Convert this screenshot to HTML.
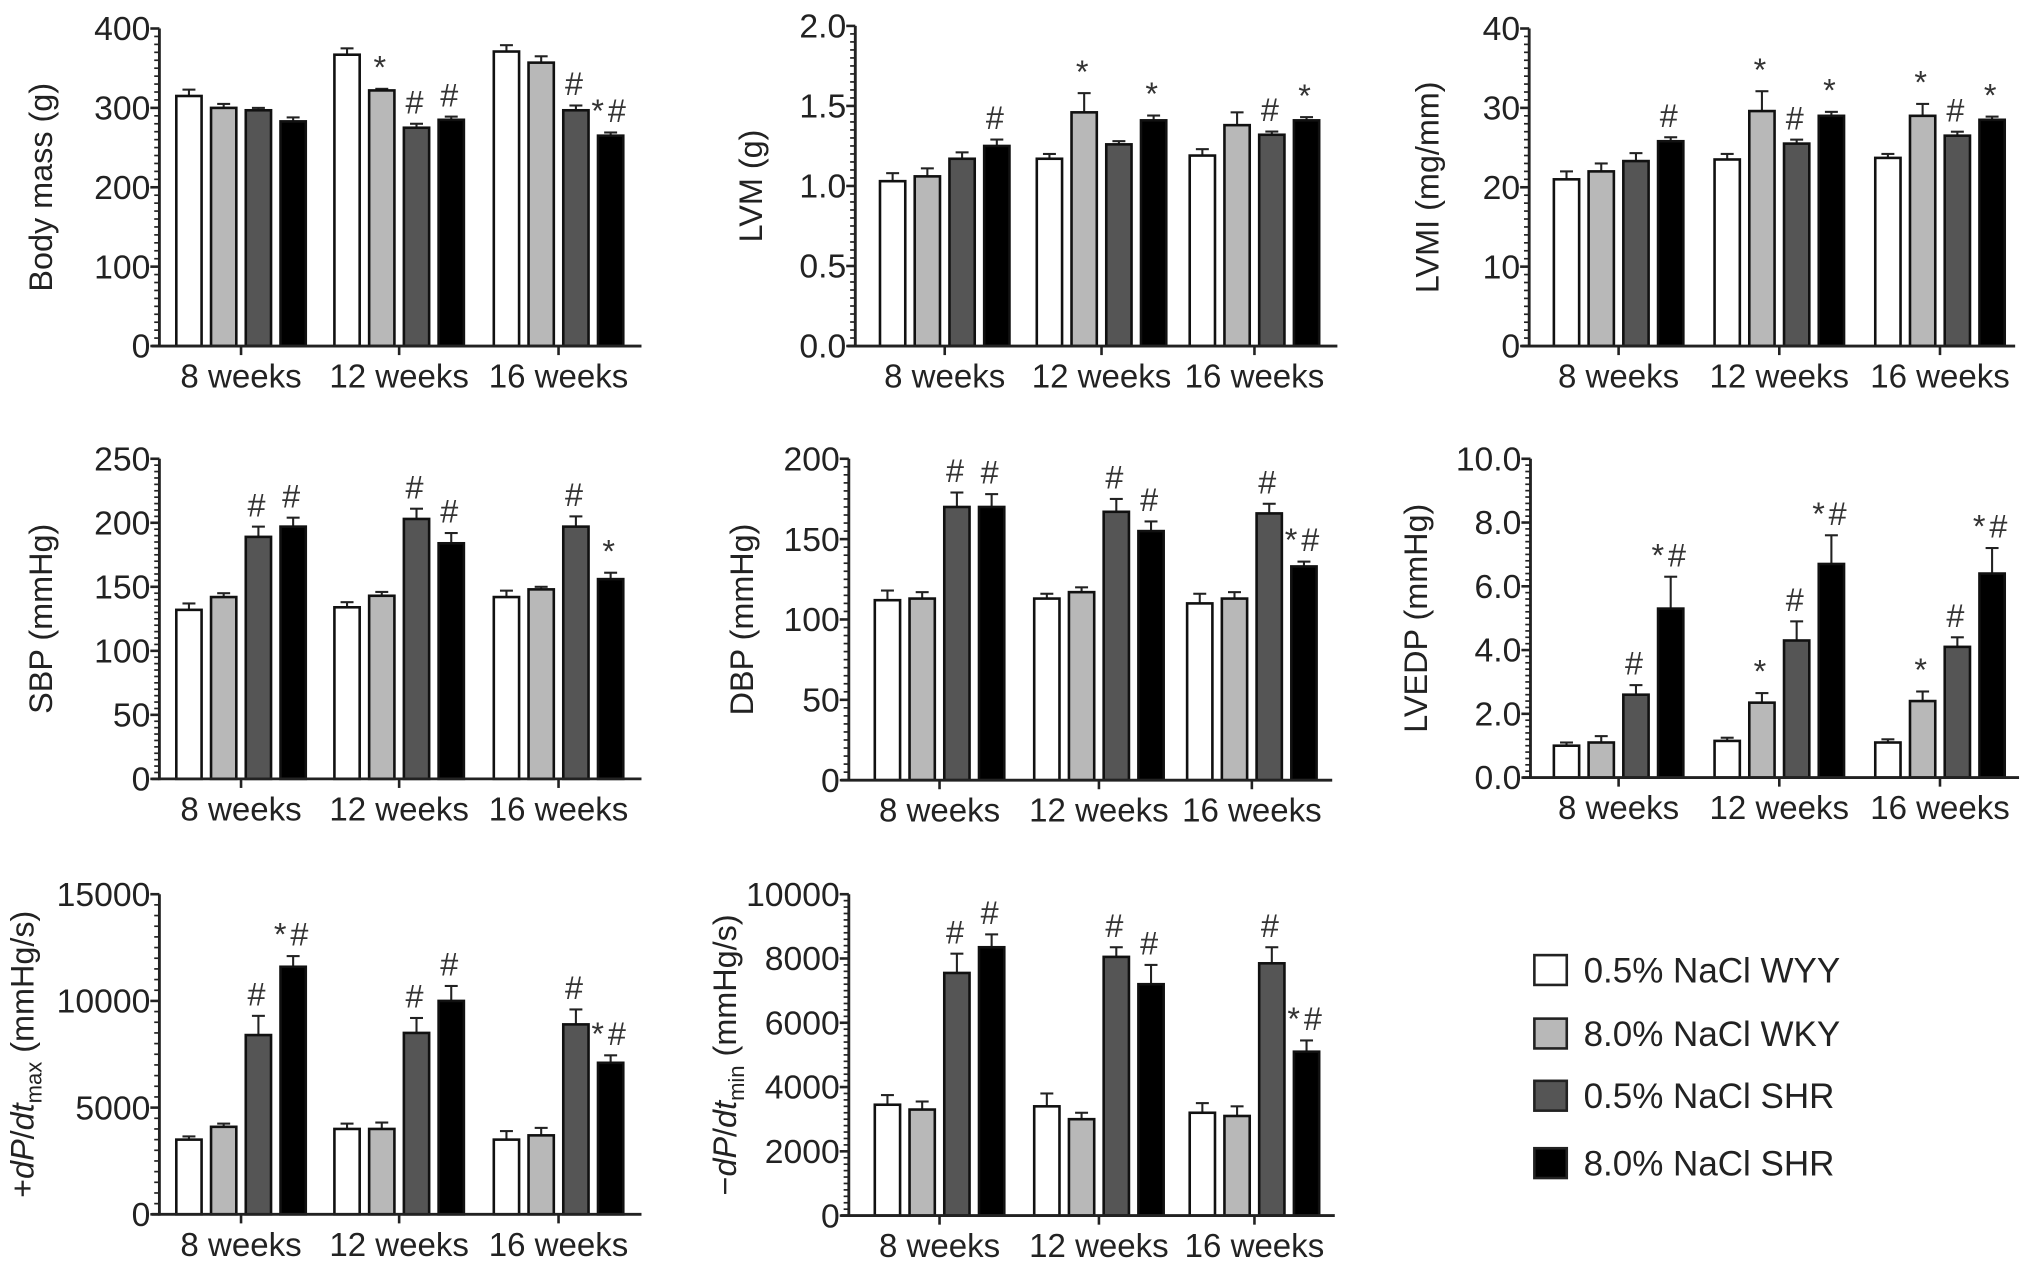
<!DOCTYPE html>
<html><head><meta charset="utf-8"><style>
html,body{margin:0;padding:0;background:#fff;}
svg{display:block;font-family:"Liberation Sans",Arial,sans-serif;}
</style></head><body>
<svg id="fig" width="2032" height="1276" viewBox="0 0 1568 984.6" preserveAspectRatio="none" xmlns="http://www.w3.org/2000/svg">
<g id="legend"></g>
</svg>
<script>
const categories = ["8 weeks","12 weeks","16 weeks"];
const groupNames = ["0.5% NaCl WYY","8.0% NaCl WKY","0.5% NaCl SHR","8.0% NaCl SHR"];
const fills = ["#ffffff","#b8b8b8","#555555","#000000"];

const bodyMass = [[315,300,297,283],[367,322,275,285],[371,357,297,265]];
const bodyMassErr = [[8,5,3,5],[8,2,5,4],[8,8,6,4]];
const bodyMassSig = [["","","",""],["","*","#","#"],["","","#","*#"]];

const lvm = [[1.03,1.06,1.17,1.25],[1.17,1.46,1.26,1.41],[1.19,1.38,1.32,1.41]];
const lvmErr = [[0.05,0.05,0.04,0.04],[0.03,0.12,0.02,0.03],[0.04,0.08,0.02,0.02]];
const lvmSig = [["","","","#"],["","*","","*"],["","","#","*"]];

const lvmi = [[21,22,23.3,25.8],[23.5,29.6,25.5,29],[23.7,29,26.5,28.5]];
const lvmiErr = [[1,1,1,0.5],[0.7,2.5,0.5,0.5],[0.5,1.5,0.5,0.4]];
const lvmiSig = [["","","","#"],["","*","#","*"],["","*","#","*"]];

const sbp = [[132,142,189,197],[134,143,203,184],[142,148,197,156]];
const sbpErr = [[5,3,8,7],[4,3,8,8],[5,2,8,5]];
const sbpSig = [["","","#","#"],["","","#","#"],["","","#","*"]];

const dbp = [[112,113,170,170],[113,117,167,155],[110,113,166,133]];
const dbpErr = [[6,4,9,8],[3,3,8,6],[6,4,6,3]];
const dbpSig = [["","","#","#"],["","","#","#"],["","","#","*#"]];

const lvedp = [[1.0,1.1,2.6,5.3],[1.15,2.35,4.3,6.7],[1.1,2.4,4.1,6.4]];
const lvedpErr = [[0.1,0.2,0.3,1.0],[0.1,0.3,0.6,0.9],[0.1,0.3,0.3,0.8]];
const lvedpSig = [["","","#","*#"],["","*","#","*#"],["","*","#","*#"]];

const dpMax = [[3500,4100,8400,11600],[4000,4000,8500,10000],[3500,3700,8900,7100]];
const dpMaxErr = [[150,150,900,500],[250,300,700,700],[400,350,700,350]];
const dpMaxSig = [["","","#","*#"],["","","#","#"],["","","#","*#"]];

const dpMin = [[3450,3300,7550,8350],[3400,3000,8050,7200],[3200,3100,7850,5100]];
const dpMinErr = [[300,250,600,400],[400,200,300,600],[300,300,500,350]];
const dpMinSig = [["","","#","#"],["","","#","#"],["","","#","*#"]];

const NS="http://www.w3.org/2000/svg";
const svg=document.getElementById('fig');
function mk(tag,attrs,parent){const e=document.createElementNS(NS,tag);for(const k in attrs)e.setAttribute(k,attrs[k]);(parent||svg).appendChild(e);return e;}

const panels=[
 {name:"body-mass",ax:123,top:22,bot:267,xr:495,max:400,step:100,dec:0,title:"Body mass (g)",centers:[186,308,431],v:bodyMass,e:bodyMassErr,s:bodyMassSig,lx:40},
 {name:"lvm",ax:660,top:20,bot:267,xr:1032,max:2.0,step:0.5,dec:1,title:"LVM (g)",centers:[729,850,968],v:lvm,e:lvmErr,s:lvmSig,lx:588},
 {name:"lvmi",ax:1180,top:22,bot:267,xr:1555,max:40,step:10,dec:0,title:"LVMI (mg/mm)",centers:[1249,1373,1497],v:lvmi,e:lvmiErr,s:lvmiSig,lx:1110},
 {name:"sbp",ax:123,top:354,bot:601,xr:495,max:250,step:50,dec:0,title:"SBP (mmHg)",centers:[186,308,431],v:sbp,e:sbpErr,s:sbpSig,lx:40},
 {name:"dbp",ax:655,top:354,bot:602,xr:1028,max:200,step:50,dec:0,title:"DBP (mmHg)",centers:[725,848,966],v:dbp,e:dbpErr,s:dbpSig,lx:581},
 {name:"lvedp",ax:1181,top:354,bot:600,xr:1558,max:10,step:2,dec:1,title:"LVEDP (mmHg)",centers:[1249,1373,1497],v:lvedp,e:lvedpErr,s:lvedpSig,lx:1101},
 {name:"dp-max",ax:123,top:690,bot:937,xr:495,max:15000,step:5000,dec:0,title:"+dP/dt_max (mmHg/s)",centers:[186,308,431],v:dpMax,e:dpMaxErr,s:dpMaxSig,lx:26},
 {name:"dp-min",ax:655,top:690,bot:938,xr:1030,max:10000,step:2000,dec:0,title:"−dP/dt_min (mmHg/s)",centers:[725,848,968],v:dpMin,e:dpMinErr,s:dpMinSig,lx:568}
];

const barW=19.5, barStep=26.8;
panels.forEach(p=>{
  const g=mk('g',{});
  
  
  const y=v=>p.bot-(v/p.max)*(p.bot-p.top);
  p.v.forEach((grp,gi)=>{
    grp.forEach((val,bi)=>{
      const x=p.centers[gi]+(bi-1.5)*barStep-barW/2;
      const top=y(val), et=y(val+p.e[gi][bi]);
      const cx=x+barW/2;
      const el=mk('line',{x1:cx,x2:cx,y1:top,y2:et,stroke:'#222','stroke-width':1.6},g);
      
      
      const cap=mk('line',{x1:cx-5,x2:cx+5,y1:et,y2:et,stroke:'#222','stroke-width':1.6},g);
      
      
      const r=mk('rect',{x:x,y:top,width:barW,height:p.bot-top,fill:fills[bi],stroke:'#111','stroke-width':2},g);
      
      
      const sig=p.s[gi][bi];
      if(sig){
        const t=mk('text',{x:cx,y:et-8,'text-anchor':'middle','font-size':25,fill:'#333','letter-spacing':3},g);
        t.textContent=sig;
        
        
      }
    });
  });
  const ya=mk('line',{x1:p.ax,x2:p.ax,y1:p.top,y2:p.bot+1,stroke:'#222','stroke-width':2.2},g);
  
  
  const xa=mk('line',{x1:p.ax-6,x2:p.xr,y1:p.bot,y2:p.bot,stroke:'#222','stroke-width':2.2},g);
  
  
  const nT=Math.round(p.max/p.step);
  for(let i=0;i<=nT;i++){
    const v=i*p.step, yy=y(v);
    mk('line',{x1:p.ax-7,x2:p.ax,y1:yy,y2:yy,stroke:'#222','stroke-width':2},g);
    const t=mk('text',{x:p.ax-7,y:yy+9,'text-anchor':'end','font-size':26,fill:'#222'},g);
    t.textContent=v.toFixed(p.dec);
    
    
    if(i<nT){for(let m=1;m<10;m++){const ym=y(v+p.step*m/10);mk('line',{x1:p.ax-4,x2:p.ax,y1:ym,y2:ym,stroke:'#222','stroke-width':1.3},g);}}
  }
  categories.forEach((c,i)=>{
    mk('line',{x1:p.centers[i],x2:p.centers[i],y1:p.bot,y2:p.bot+7,stroke:'#222','stroke-width':2},g);
    const t=mk('text',{x:p.centers[i],y:p.bot+32,'text-anchor':'middle','font-size':25.5,fill:'#222'},g);
    t.textContent=c;
    
    
  });
  const mid=(p.top+p.bot)/2;
  const tt=mk('text',{x:p.lx,y:mid,'text-anchor':'middle','font-size':25,fill:'#222',transform:`rotate(-90 ${p.lx} ${mid})`},g);
  
  
  if(p.title.includes('dP/dt')){
    const sign=p.title[0], sub=p.title.includes('max')?'max':'min';
    tt.innerHTML=`${sign}<tspan font-style="italic">dP</tspan>/<tspan font-style="italic">dt</tspan><tspan font-size="17" dy="6">${sub}</tspan><tspan dy="-6"> (mmHg/s)</tspan>`;
  } else tt.textContent=p.title;
});

const lg=document.getElementById('legend');
groupNames.forEach((n,i)=>{
  const yy=[748,797,845,897][i];
  const r=mk('rect',{x:1184,y:yy-11,width:25,height:23,fill:fills[i],stroke:'#222','stroke-width':2},lg);
  
  
  const t=mk('text',{x:1222,y:yy+10,'font-size':27,fill:'#222'},lg);
  t.textContent=n;
  
  
});
</script>
</body></html>
